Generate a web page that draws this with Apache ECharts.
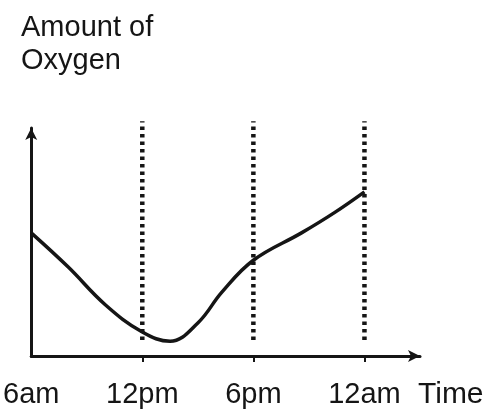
<!DOCTYPE html>
<html>
<head>
<meta charset="utf-8">
<script src="https://cdn.jsdelivr.net/npm/echarts@6/dist/echarts.min.js"></script>
<style>
  html, body { margin: 0; padding: 0; background: #fff; }
  #chart { width: 494px; height: 412px; }
</style>
</head>
<body>
<div id="chart"></div>
<script>
// hours after 6am
const tickHours = [0, 6, 12, 18]
const tickLabels = ['6am', '12pm', '6pm', '12am']
const curveHours = [0, 2, 4, 6, 7.5, 9, 10.3, 12, 14.6, 16.4, 18]
const oxygen = [5.4, 3.9, 2.25, 1.05, 0.65, 1.45, 2.8, 4.2, 5.4, 6.3, 7.2]
const guideHours = [6, 12, 18]
const guideRange = [0.7, 10.3]

const font = 'Liberation Sans, Arial, sans-serif'
const ink = '#151515'

const myChart = echarts.init(document.getElementById('chart'))

// dotted vertical guides, one small series each
const guides = guideHours.map((h) => ({
  type: 'line',
  data: [[h, guideRange[0]], [h, guideRange[1]]],
  symbol: 'none',
  clip: false,
  silent: true,
  lineStyle: { color: ink, width: 4.5, type: [3.5, 4] }
}))

const options = {
  animation: false,
  title: {
    text: 'Amount of\nOxygen',
    left: 21,
    top: 11,
    padding: 0,
    textStyle: {
      fontFamily: font,
      fontSize: 29,
      fontWeight: 'normal',
      lineHeight: 33,
      color: ink
    }
  },
  grid: { left: 29, right: 74, top: 128, bottom: 56 },
  xAxis: {
    type: 'value',
    min: 0,
    max: 21,
    name: 'Time',
    nameLocation: 'end',
    nameGap: -2,
    nameTextStyle: {
      fontFamily: font,
      fontSize: 30,
      color: ink,
      align: 'left',
      verticalAlign: 'top',
      padding: [24, 0, 0, 0]
    },
    axisLine: {
      lineStyle: { color: ink, width: 3 },
      symbol: ['none', 'arrow'],
      symbolSize: [9, 12]
    },
    axisTick: {
      customValues: guideHours,
      length: 6,
      lineStyle: { color: ink, width: 2 }
    },
    axisLabel: {
      customValues: tickHours,
      margin: 24,
      fontFamily: font,
      fontSize: 29,
      color: ink,
      formatter: (v) => tickLabels[tickHours.indexOf(v)] || ''
    },
    splitLine: { show: false }
  },
  yAxis: {
    type: 'value',
    min: 0,
    max: 10,
    axisLine: {
      show: true,
      lineStyle: { color: ink, width: 3 },
      symbol: ['none', 'arrow'],
      symbolSize: [9, 12]
    },
    axisTick: { show: false },
    axisLabel: { show: false },
    splitLine: { show: false }
  },
  series: [
    ...guides,
    {
      type: 'line',
      data: curveHours.map((h, i) => [h, oxygen[i]]),
      smooth: 0.4,
      symbol: 'none',
      clip: false,
      lineStyle: { color: ink, width: 3.5 }
    }
  ]
}
myChart.setOption(options)
</script>
</body>
</html>
